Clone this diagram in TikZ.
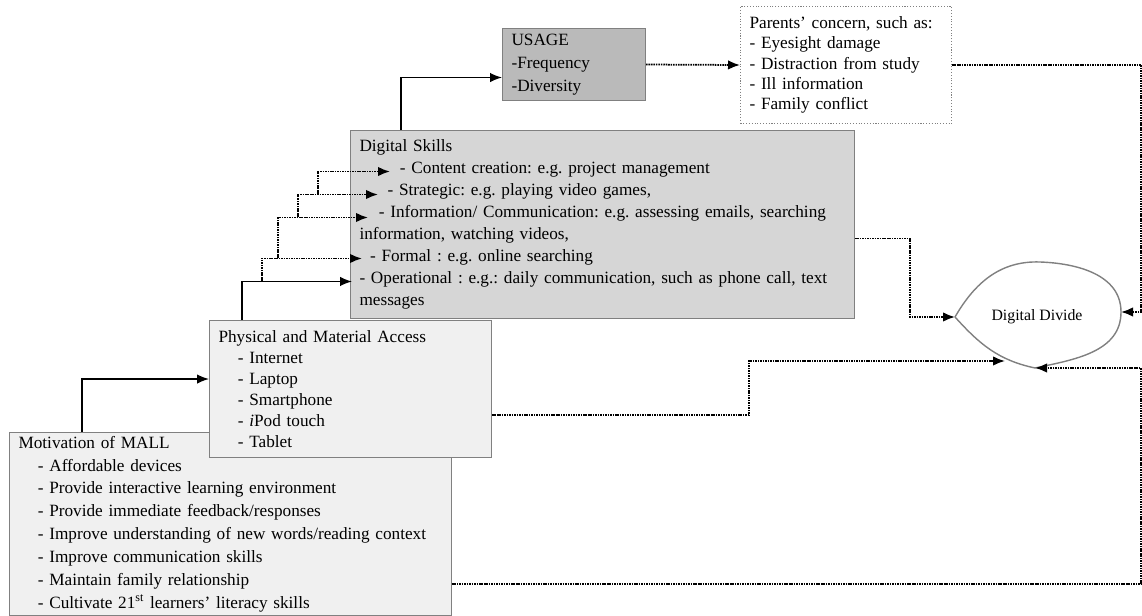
\documentclass[tikz,border=0pt]{standalone}
\usepackage{fontspec}
\setmainfont{Liberation Serif}
\frenchspacing
\usetikzlibrary{positioning, arrows.meta}

\definecolor{paleboxfill}{gray}{0.94}
\definecolor{skillboxfill}{gray}{0.84}
\definecolor{usageboxfill}{gray}{0.73}
\definecolor{boxline}{gray}{0.5}

\tikzset{
  box/.style={draw=boxline, line width=0.6pt, anchor=north west, align=left,
    inner xsep=0.18cm, inner ysep=2pt, font=\fontsize{9.8}{13}\selectfont},
  conn/.style={-{Latex[length=2.4mm,width=1.9mm]}, line width=0.8pt},
  dconn/.style={conn, line width=1pt, dash pattern=on 0.9pt off 0.5pt},
}

\begin{document}
\begin{tikzpicture}[x=0.02cm, y=0.02cm]
        \useasboundingbox (0,0) rectangle (1142,615);

        % boxes
        \node[box, fill=paleboxfill, text width=8.48cm, minimum height=3.6cm] (mall) at (9,183) {Motivation of MALL\\
          \hspace*{11pt}- Affordable devices\\
          \hspace*{11pt}- Provide interactive learning environment\\
          \hspace*{11pt}- Provide immediate feedback/responses\\
          \hspace*{11pt}- Improve understanding of new words/reading context\\
          \hspace*{11pt}- Improve communication skills\\
          \hspace*{11pt}- Maintain family relationship\\
          \hspace*{11pt}- Cultivate 21\textsuperscript{st} learners' literacy skills};
        \node[box, fill=paleboxfill, text width=5.28cm, minimum height=2.74cm,
          font=\fontsize{9.8}{12}\selectfont] (access) at (209,295) {Physical and Material Access\\
          \hspace*{11pt}- Internet\\
          \hspace*{11pt}- Laptop\\
          \hspace*{11pt}- Smartphone\\
          \hspace*{11pt}- \textit{i}Pod touch\\
          \hspace*{11pt}- Tablet};
        \node[box, fill=skillboxfill, text width=9.72cm, minimum height=3.76cm,
          font=\fontsize{9.8}{12.5}\selectfont] (skills) at (350,485) {Digital Skills\\
          \hspace*{23pt}- Content creation: e.g. project management\\
          \hspace*{16pt}- Strategic: e.g. playing video games,\\
          \hspace*{11pt}- Information/ Communication: e.g. assessing emails, searching\\
          information, watching videos,\\
          \hspace*{6pt}- Formal : e.g. online searching\\
          - Operational : e.g.: daily communication, such as phone call, text\\
          messages};
        \node[box, fill=usageboxfill, text width=2.5cm, minimum height=1.44cm] (usage) at (502,587) {USAGE\\
          -Frequency\\
          -Diversity};
        \node[box, densely dotted, fill=white, text width=3.86cm, minimum height=2.34cm,
          font=\fontsize{9.8}{11.5}\selectfont] (concern) at (740,609) {Parents' concern, such as:\\
          - Eyesight damage\\
          - Distraction from study\\
          - Ill information\\
          - Family conflict};

        % digital divide
        \node[font=\fontsize{9}{11}\selectfont] (divide) at (1037,298) {Digital Divide};
        \coordinate (divide-w) at (955,298);
        \coordinate (divide-n) at (1040,353);
        \coordinate (divide-e) at (1121,303);
        \coordinate (divide-s) at (1035,247);
        \coordinate (divide-sw) at (1005,254);
        \draw[boxline, line width=0.8pt] (divide-w) to[out=60,in=178] (divide-n)
          to[out=-2,in=90] (divide-e) to[out=-90,in=12] (divide-s)
          to[out=168,in=-48] (divide-w);

        % skill levels
        \coordinate (oper) at ([xshift=0.04cm,yshift=-1.14cm]skills.west);
        \coordinate (formal) at ([xshift=0.24cm,yshift=-0.68cm]skills.west);
        \coordinate (info) at ([xshift=0.36cm,yshift=0.14cm]skills.west);
        \coordinate (strat) at ([xshift=0.56cm,yshift=0.6cm]skills.west);
        \coordinate (content) at ([xshift=0.8cm,yshift=1.06cm]skills.west);
        \coordinate (fork1) at (262,334);
        \coordinate (fork2) at (278,357);
        \coordinate (fork3) at (298,398);
        \coordinate (fork4) at (318,421);

        \draw[conn] ([xshift=1.46cm]mall.north west) |- ([yshift=0.2cm]access.west);
        \draw[conn] ([xshift=0.66cm]access.north west) |- (oper);
        \draw[dconn] (fork1) |- (formal);
        \draw[dconn] (fork2) |- (info);
        \draw[dconn] (fork3) |- (strat);
        \draw[dconn] (fork4) |- (content);
        \draw[conn] ([xshift=1.02cm]skills.north west) |- ([yshift=-0.26cm]usage.west);
        \draw[dconn] (usage.east) -- (concern.west);

        \draw[dconn] (concern.east) -- ++(3.78cm,0) |- (divide-e);
        \draw[dconn] ([yshift=-1.2cm]mall.east) -- ++(13.78cm,0) |- (divide-s);
        \draw[dconn] ([yshift=-0.28cm]skills.east) -- ++(1.1cm,0) |- (divide-w);
        \draw[dconn] ([yshift=-0.52cm]access.east) -- ++(5.14cm,0) |- (divide-sw);
      \end{tikzpicture}
\end{document}
